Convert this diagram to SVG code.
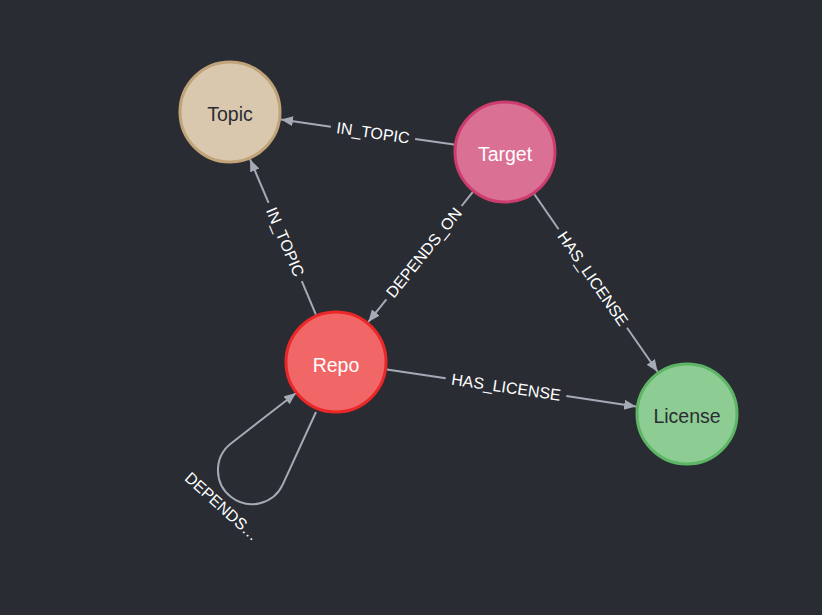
<svg xmlns="http://www.w3.org/2000/svg" width="822" height="615" viewBox="0 0 822 615">
<defs>
<marker id="arr" markerUnits="userSpaceOnUse" markerWidth="14" markerHeight="12" refX="12" refY="5" orient="auto">
<path d="M0,0 L12,5 L0,10 z" fill="#a5abb6"/>
</marker>
<style>
.e{stroke:#a5abb6;stroke-width:2;fill:none}
.el{font-family:"Liberation Sans",Arial,sans-serif;font-size:16px;fill:#ffffff;text-anchor:middle;dominant-baseline:central}
.nt{font-family:"Liberation Sans",Arial,sans-serif;font-size:19.5px;text-anchor:middle;dominant-baseline:central}
.n{stroke-width:3}
</style>
</defs>
<rect width="822" height="615" fill="#292c33"/>
<g id="connectors">
<g id="e-target-topic">
<line class="e" x1="454" y1="144.6" x2="415.1" y2="138.9"/>
<line class="e" x1="330.9" y1="126.7" x2="281" y2="119.4" marker-end="url(#arr)"/>
<text class="el" transform="translate(373,132.8) rotate(8.3)">IN_TOPIC</text>
</g>
<g id="e-repo-topic">
<line class="e" x1="315.9" y1="314.6" x2="301.8" y2="281.1"/>
<line class="e" x1="268.6" y1="202.9" x2="250.1" y2="159.4" marker-end="url(#arr)"/>
<text class="el" transform="translate(285.2,242) rotate(67)">IN_TOPIC</text>
</g>
<g id="e-target-repo">
<line class="e" x1="472.7" y1="192.1" x2="461.6" y2="206"/>
<line class="e" x1="386.4" y1="299.4" x2="368.3" y2="321.9" marker-end="url(#arr)"/>
<text class="el" transform="translate(424,252.7) rotate(-51.2)">DEPENDS_ON</text>
</g>
<g id="e-target-license">
<line class="e" x1="534.4" y1="194.3" x2="558.6" y2="229.2"/>
<line class="e" x1="627" y1="327.8" x2="657.6" y2="371.7" marker-end="url(#arr)"/>
<text class="el" transform="translate(592.8,278.5) rotate(55.2)">HAS_LICENSE</text>
</g>
<g id="e-repo-license">
<line class="e" x1="386.9" y1="369.5" x2="445.7" y2="378.3"/>
<line class="e" x1="566.3" y1="396.1" x2="636.1" y2="406.5" marker-end="url(#arr)"/>
<text class="el" transform="translate(506,387.2) rotate(8.4)">HAS_LICENSE</text>
</g>
<g id="e-repo-repo">
<path class="e" d="M316,412 L282.95,484.19 A34,34 0 1 1 231.3,443.2 L296,393" marker-end="url(#arr)"/>
<text class="el" transform="translate(222,506.5) rotate(42)">DEPENDS…</text>
</g>
</g>
<g id="node-topic">
<circle class="n" cx="230" cy="112" r="50" fill="#d9c8ae" stroke="#c0a378"/>
<text class="nt" x="230" y="114" fill="#2a2c34">Topic</text>
</g>
<g id="node-target">
<circle class="n" cx="505" cy="152" r="50" fill="#da7194" stroke="#cc3c6c"/>
<text class="nt" x="505" y="154" fill="#ffffff">Target</text>
</g>
<g id="node-repo">
<circle class="n" cx="336" cy="362" r="50" fill="#f16667" stroke="#eb2728"/>
<text class="nt" x="336" y="365" fill="#ffffff">Repo</text>
</g>
<g id="node-license">
<circle class="n" cx="687" cy="414" r="50" fill="#8dcc93" stroke="#5db665"/>
<text class="nt" x="687" y="416" fill="#2a2c34">License</text>
</g>
</svg>
